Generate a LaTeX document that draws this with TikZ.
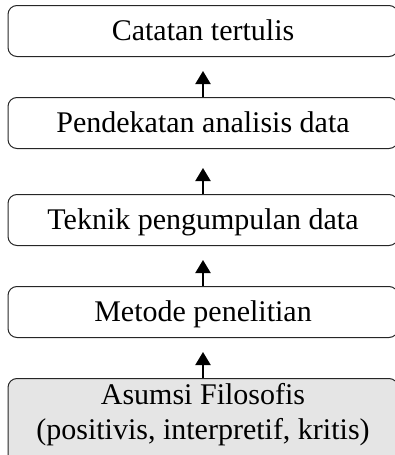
\documentclass[tikz,border=0pt]{standalone}
\usepackage{fontspec}
\setmainfont{Liberation Serif}
\usetikzlibrary{positioning,arrows.meta}
\begin{document}
\begin{tikzpicture}[>={Triangle[length=6.5pt,width=7.5pt]},
  kotak/.style={draw=black!85,line width=0.5pt,rounded corners=4.5pt,minimum width=195pt,minimum height=25.5pt,inner sep=0pt,text height=9.5pt,text depth=0.5pt,font=\fontsize{15}{17.5}\selectfont},
  panah/.style={->,line width=1pt}]
\useasboundingbox (0,0) rectangle (197.5pt,-227.5pt);
\node[kotak,anchor=north] (catatan) at (101.5pt,-2.5pt) {Catatan tertulis};
\node[kotak,below=20pt of catatan] (analisis) {Pendekatan analisis data};
\node[kotak,below=22.5pt of analisis] (teknik) {Teknik pengumpulan data};
\node[kotak,below=20pt of teknik] (metode) {Metode penelitian};
\node[kotak,below=20pt of metode,fill=black!10,align=center,text height=,text depth=,inner ysep=2.5pt] (asumsi) {Asumsi Filosofis\\(positivis, interpretif, kritis)\rule[-13pt]{0pt}{13pt}};
\draw[panah,shorten >=7pt] (analisis) -- (catatan);
\draw[panah,shorten >=9.5pt] (teknik) -- (analisis);
\draw[panah,shorten >=7pt] (metode) -- (teknik);
\draw[panah,shorten >=7pt] (asumsi) -- (metode);
\end{tikzpicture}
\end{document}
